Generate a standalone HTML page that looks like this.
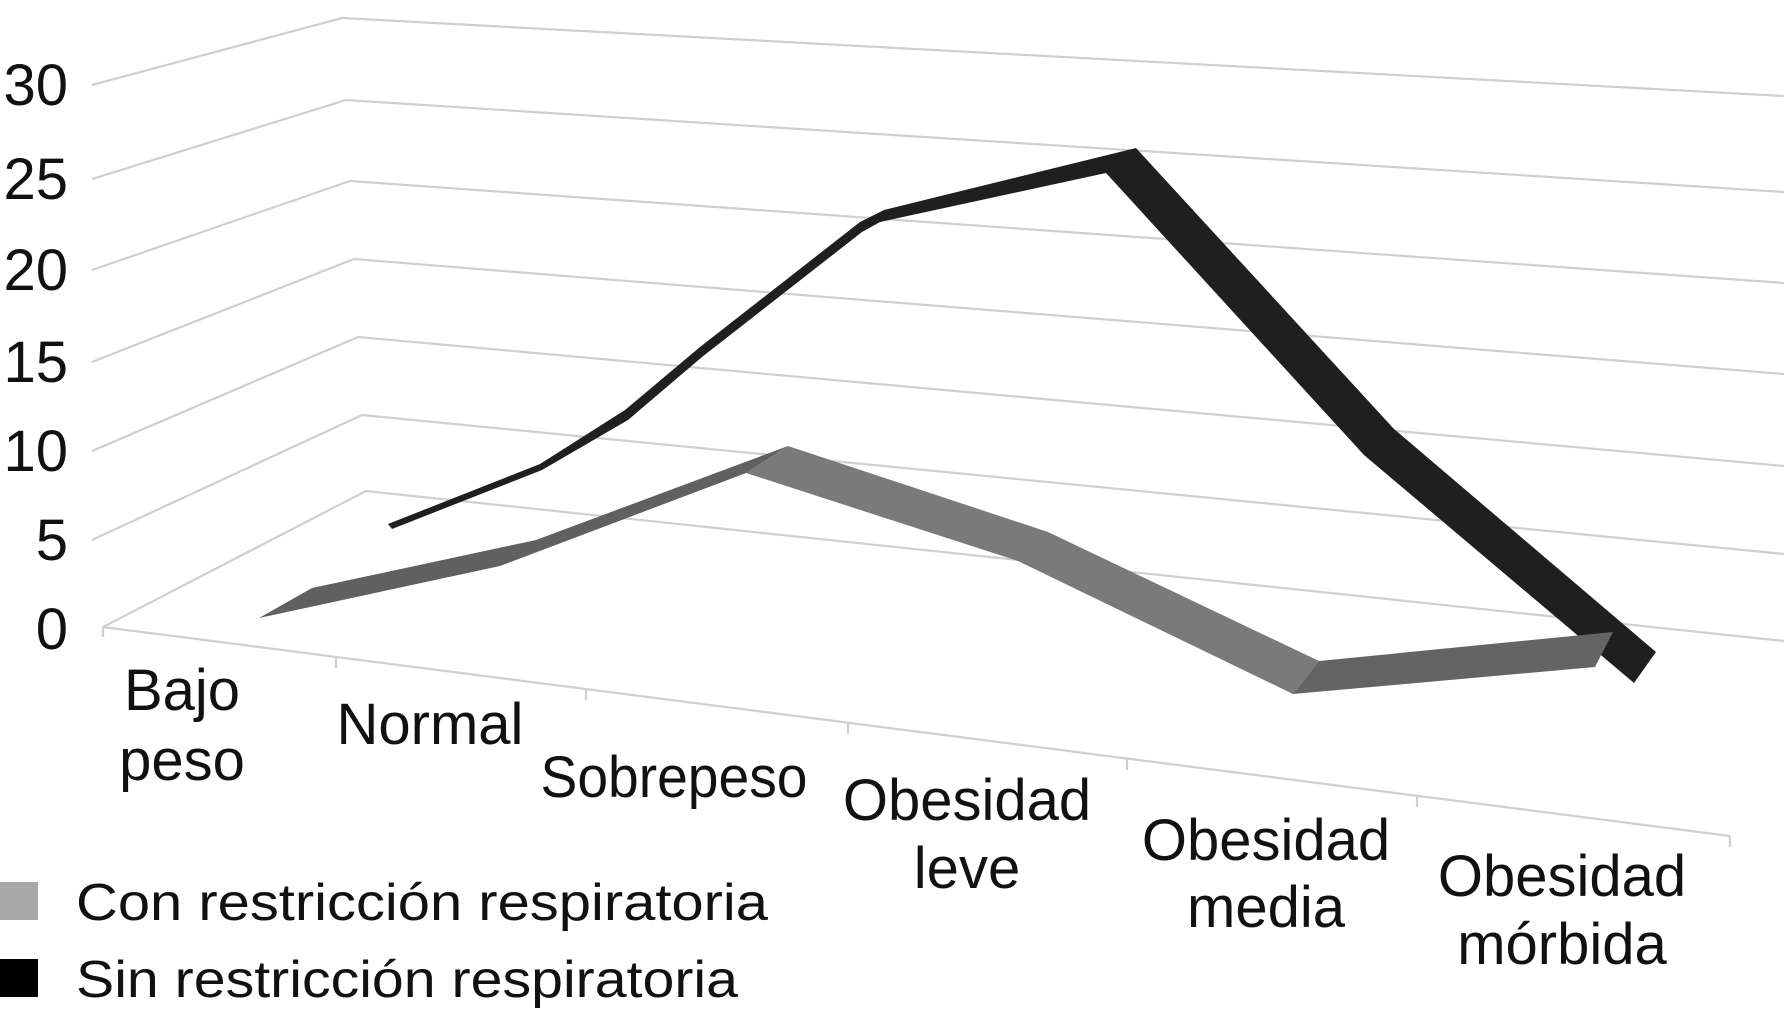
<!DOCTYPE html>
<html><head><meta charset="utf-8"><style>
html,body{margin:0;padding:0;background:#fff;}
svg{display:block;}
text{font-family:"Liberation Sans",sans-serif;fill:#111;}
</style></head><body>
<svg width="1784" height="1024" viewBox="0 0 1784 1024" xmlns="http://www.w3.org/2000/svg">
<g stroke="#cfcfcf" stroke-width="2.2" fill="none">
<polyline points="92,85 342,18 1784,96"/>
<polyline points="92,179 346,100 1784,192"/>
<polyline points="92,270 350,181 1784,283"/>
<polyline points="92,362 354,259 1784,374"/>
<polyline points="92,451 358,337 1784,466"/>
<polyline points="92,540 362,415 1784,554"/>
<polyline points="103,627 366,491 1784,641"/>
<line x1="103" y1="627" x2="1730" y2="836"/>
<line x1="103" y1="627" x2="103" y2="637"/>
<line x1="336" y1="657" x2="336" y2="668"/>
<line x1="586" y1="689" x2="586" y2="700"/>
<line x1="848" y1="723" x2="848" y2="734"/>
<line x1="1127" y1="759" x2="1127" y2="770"/>
<line x1="1417" y1="796" x2="1417" y2="807"/>
<line x1="1730" y1="836" x2="1730" y2="847"/>
</g>
<polygon fill="#1f1f1f" points="388,524 540,464 625,410 700,347 860,222 884,210 1136,148 1394,429 1656,652 1634,683 1364,455 1106,173 880,222 862,232 702,357 628,420 542,470 392,529"/>
<polygon fill="#606060" points="259,618 312,588 536,540 788,446 746,473 500,566"/>
<polygon fill="#7a7a7a" points="788,446 1048,532 1319,661 1293,694 1018,561 746,473"/>
<polygon fill="#646464" points="1319,661 1613,632 1595,667 1293,694"/>
<g font-size="58" text-anchor="end">
<text x="68" y="105">30</text>
<text x="68" y="199">25</text>
<text x="68" y="290">20</text>
<text x="68" y="382">15</text>
<text x="68" y="471">10</text>
<text x="68" y="560">5</text>
<text x="68" y="649">0</text>
</g>
<g font-size="58" text-anchor="middle">
<text x="182" y="710">Bajo</text>
<text x="182" y="780">peso</text>
<text x="430" y="744">Normal</text>
<text x="674" y="797" textLength="267" lengthAdjust="spacingAndGlyphs">Sobrepeso</text>
<text x="967" y="820">Obesidad</text>
<text x="967" y="888">leve</text>
<text x="1266" y="860">Obesidad</text>
<text x="1266" y="927">media</text>
<text x="1562" y="896">Obesidad</text>
<text x="1562" y="964">mórbida</text>
</g>
<rect x="0" y="882" width="38" height="38" fill="#a8a8a8"/>
<rect x="0" y="959" width="38" height="38" fill="#000"/>
<text x="76" y="920" font-size="52" textLength="692" lengthAdjust="spacingAndGlyphs">Con restricción respiratoria</text>
<text x="76" y="997" font-size="52" textLength="662" lengthAdjust="spacingAndGlyphs">Sin restricción respiratoria</text>
</svg>
</body></html>
